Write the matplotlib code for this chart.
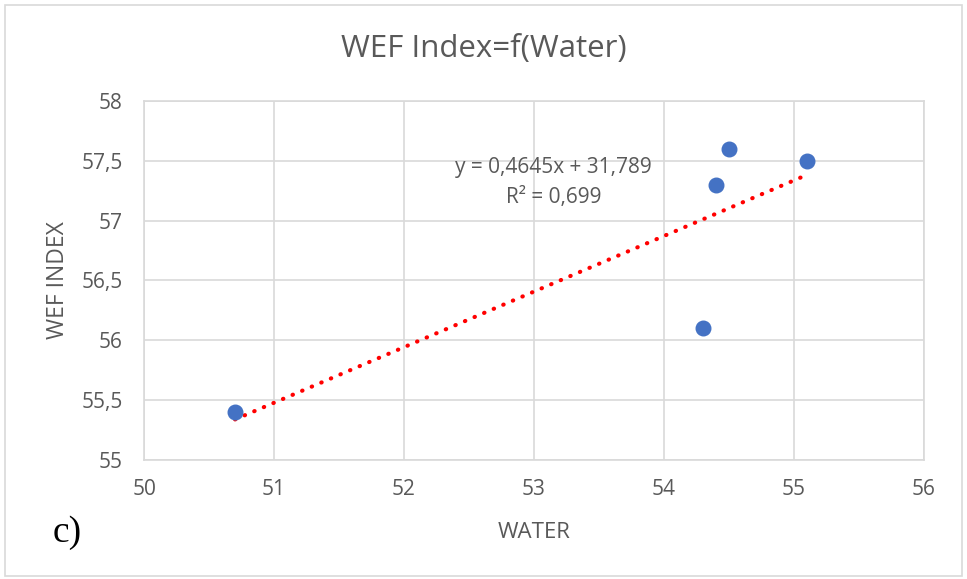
import matplotlib.pyplot as plt
import numpy as np
from matplotlib.patches import Rectangle

# Datos
water = [50.7, 54.3, 54.4, 54.5, 55.1]
wef_index = [55.4, 56.1, 57.3, 57.6, 57.5]
slope, intercept = 0.4645, 31.789

x_ticks = [50, 51, 52, 53, 54, 55, 56]
y_ticks = [55, 55.5, 56, 56.5, 57, 57.5, 58]
y_labels = ['55', '55,5', '56', '56,5', '57', '57,5', '58']

plt.rcParams['font.family'] = ['Open Sans', 'DejaVu Sans']
gris = '#595959'

fig = plt.figure(figsize=(9.67, 5.79), dpi=100)
ax = fig.add_axes([0.149, 0.2055, 0.8065, 0.6201])

# borde exterior
fig.patches.append(Rectangle((0.005, 0.006), 0.99, 0.986, transform=fig.transFigure,
                             fill=False, edgecolor='#D9D9D9', linewidth=1.2))

# linea de tendencia
xt = np.array([min(water), max(water)])
ax.plot(xt, slope * xt + intercept, color='#FF0000', linestyle=(0, (0.1, 2.4)),
        linewidth=3.0, dash_capstyle='round', zorder=2)

ax.scatter(water, wef_index, s=110, color='#4472C4', zorder=3)

ax.set_xlim(50, 56)
ax.set_ylim(55, 58)
ax.set_xticks(x_ticks)
ax.set_xticklabels([str(t) for t in x_ticks])
ax.set_yticks(y_ticks)
ax.set_yticklabels(y_labels)
ax.tick_params(length=0, labelsize=15, colors=gris)
ax.tick_params(axis='y', pad=15.5)
ax.tick_params(axis='x', pad=14)
ax.grid(color='#D9D9D9', linewidth=1.2)
ax.set_axisbelow(True)
for s in ax.spines.values():
    s.set_color('#D9D9D9')
    s.set_linewidth(1.2)

# titulos
fig.text(0.5005, 1 - 57 / 579, 'WEF Index=f(Water)', fontsize=22.5, color=gris,
         ha='center', va='baseline')
fig.text(534 / 967, 1 - 538 / 579, 'WATER', fontsize=16, color=gris,
         ha='center', va='baseline')
fig.text(58 / 967, 1 - 280 / 579, 'WEF INDEX', fontsize=16.5, color=gris,
         rotation=90, ha='center', va='center')

# ecuacion de la tendencia
ax.text(53.15, 57.398, 'y = 0,4645x + 31,789', ha='center', va='baseline',
        fontsize=15, color=gris)
ax.text(53.15, 57.148, 'R² = 0,699', ha='center', va='baseline',
        fontsize=15, color=gris)

fig.text(53 / 967, 1 - 542 / 579, 'c)', fontsize=27, family='Liberation Serif',
         color='black', va='baseline')

plt.savefig('out.png', dpi=100)
